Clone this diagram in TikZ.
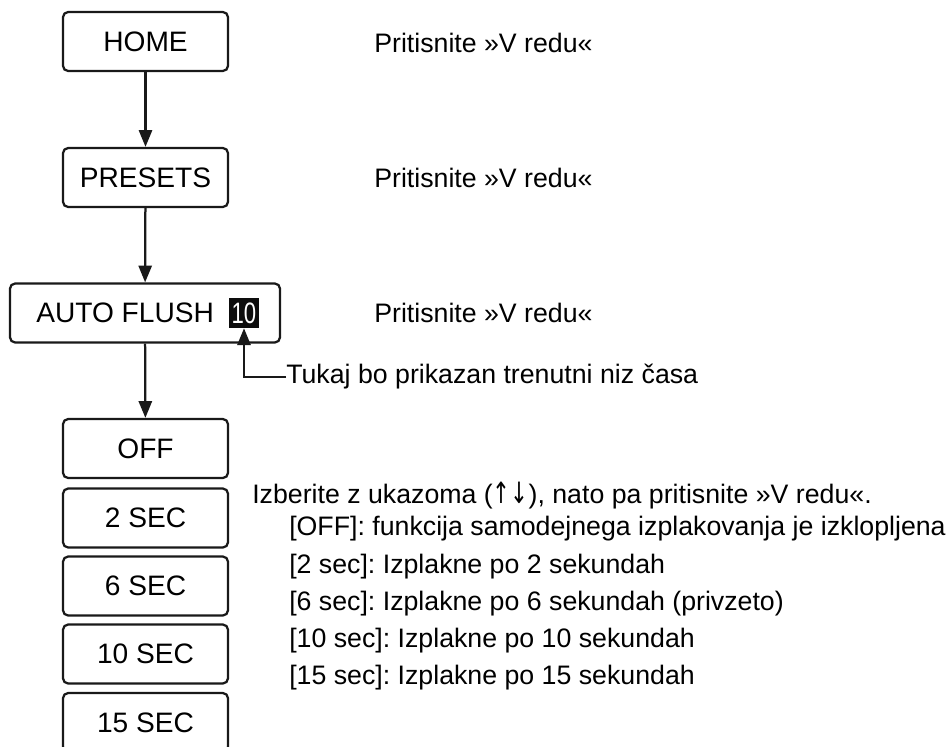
\documentclass[tikz,border=0pt]{standalone}
\usepackage{fontspec}
\setmainfont{Liberation Sans}
\newfontfamily\arrowfont{DejaVu Sans}
\usetikzlibrary{arrows.meta}
\tikzset{
  menubox/.style={draw=black!90, line width=1.6pt, rounded corners=0.13cm, minimum width=4.125cm, minimum height=1.475cm, inner sep=0pt, font=\fontsize{20}{24}\selectfont},
  widebox/.style={menubox, minimum width=6.75cm},
  countbox/.style={fill=black!95, text=white, minimum width=0.75cm, minimum height=0.75cm, inner sep=0pt, font=\fontsize{21}{24}\selectfont},
  note/.style={anchor=west, inner sep=0pt, font=\fontsize{19}{23}\selectfont},
  flow/.style={line width=1.6pt, draw=black!90, -{Triangle[length=0.42cm, width=0.33cm]}},
}
\begin{document}
\frenchspacing
\begin{tikzpicture}[x=0.025cm, y=-0.025cm]
\useasboundingbox (0,0) rectangle (947,746);
\clip (0,0) rectangle (947,746);
% menu chain
\node[menubox] (home) at (145.5,41.5) {HOME};
\node[menubox] (presets) at (145.5,177.5) {PRESETS};
\node[widebox] (flush) at (145,313) {};
\node[note, font=\fontsize{20}{24}\selectfont] (flushtxt) at (36,313) {AUTO FLUSH};
\node[countbox] (count) at (244,313) {\scalebox{0.75}[1]{10}};
\node[menubox] (off) at (145.5,448.5) {OFF};
\node[menubox] (sec2) at (145.5,518) {2 SEC};
\node[menubox] (sec6) at (145.5,586) {6 SEC};
\node[menubox] (sec10) at (145.5,654) {10 SEC};
\node[menubox] (sec15) at (145.5,722.5) {15 SEC};
\draw[flow] (home) -- (presets);
\draw[flow] (presets) -- (flush);
\draw[flow] (flush) -- (off);
% notes
\node[note] (ok1) at (374,43) {Pritisnite »V redu«};
\node[note] (ok2) at (374,178) {Pritisnite »V redu«};
\node[note] (ok3) at (374,313) {Pritisnite »V redu«};
\node[note] (tukaj) at (286,377) {Tukaj bo prikazan trenutni niz časa};
\draw[flow] (tukaj.west) -| (count.south);
\node[note] (izberi) at (252,495) {Izberite z ukazoma ({\arrowfont\scalebox{0.8}[1.1]{↑↓}}), nato pa pritisnite »V redu«.};
\node[note] (optoff) at (289,529) {[OFF]: funkcija samodejnega izplakovanja je izklopljena};
\node[note] (opt2) at (289,567) {[2 sec]: Izplakne po 2 sekundah};
\node[note] (opt6) at (289,604) {[6 sec]: Izplakne po 6 sekundah (privzeto)};
\node[note] (opt10) at (289,641) {[10 sec]: Izplakne po 10 sekundah};
\node[note] (opt15) at (289,678) {[15 sec]: Izplakne po 15 sekundah};
\end{tikzpicture}
\end{document}
